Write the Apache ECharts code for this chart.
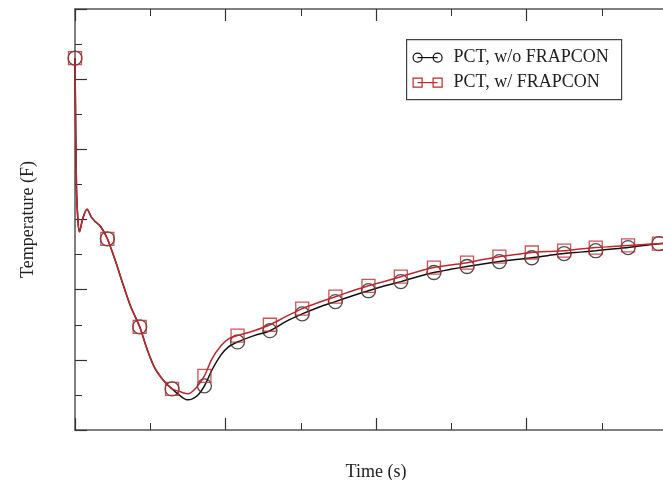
<!DOCTYPE html>
<html>
<head>
<meta charset="utf-8">
<script src="https://cdn.jsdelivr.net/npm/echarts@6/dist/echarts.min.js"></script>
<style>
html,body{margin:0;padding:0;background:#fff;}
#chart{width:663px;height:480px;}
</style>
</head>
<body>
<div id="chart"></div>
<script>
// Time (s)
var time = [0,1,2,3,5,8,11,13,17,21.5,27,32,37,43,48,53,59,64.5,70,75,81,86,91,97,102,108,119,129.5,140,151,162,173,184,195,206,216.5,227.5,238.5,249.5,260.5,271,282,293,303.5,314,325,335.5,346,357,367.5,378,388,400];
// PCT without FRAPCON (F)
var pctWithout = [1060,686,594,565,600,629,606,596,580,545,480,414,352,294,229,177,140,117,97,86,97,126,171,214,237,251,269,283,309,331,350,366,382,397,411,423,437,449,458,466,473,480,486,491,497,503,507,511,516,520,526,531,536];
// PCT with FRAPCON (F)
var pctWith = [1060,686,594,565,600,629,606,596,580,545,480,414,352,294,229,177,140,117,109,103,123,154,203,240,260,269,283,300,323,346,364,380,396,411,424,437,451,463,470,477,486,494,500,506,509,511,516,520,523,526,529,531,535];
// times that carry a marker
var markerTimes = [0,21.5,43,64.5,86,108,129.5,151,173,195,216.5,238.5,260.5,282,303.5,325,346,367.5,388];
var seriesNames = ['PCT, w/o FRAPCON', 'PCT, w/ FRAPCON'];
var xTitle = 'Time (s)';
var yTitle = 'Temperature (F)';

function pairs(vals){ return time.map(function(t,i){ return [t, vals[i]]; }); }
function markers(vals){
  var out = [];
  time.forEach(function(t,i){ if (markerTimes.indexOf(t) >= 0) out.push([t, vals[i]]); });
  return out;
}

var BLACK = '#111111';
var RED = '#c0282d';
var AXIS = '#555555';
var FONT = 'Liberation Serif';

function axisCommon(extra){
  var o = {
    axisLine: {show: true, onZero: false, lineStyle: {color: AXIS, width: 1.5}},
    axisTick: {show: true, inside: true, length: 12, lineStyle: {color: '#333', width: 1.2}},
    minorTick: {show: true, splitNumber: 2, length: 7, lineStyle: {color: '#333', width: 1}},
    axisLabel: {show: false},
    splitLine: {show: false},
    minorSplitLine: {show: false}
  };
  for (var k in extra) o[k] = extra[k];
  return o;
}

var chart = echarts.init(document.getElementById('chart'), null, {renderer: 'canvas'});
chart.setOption({
  animation: false,
  backgroundColor: '#ffffff',
  grid: {left: 75, top: 9, width: 602, height: 421, containLabel: false, outerBoundsMode: 'none'},
  xAxis: [
    axisCommon({type: 'value', min: 0, max: 400, interval: 100, position: 'bottom',
      name: xTitle, nameLocation: 'middle', nameGap: 33,
      nameTextStyle: {fontFamily: FONT, fontSize: 18, color: '#222'}}),
    axisCommon({type: 'value', min: 0, max: 400, interval: 100, position: 'top'})
  ],
  yAxis: [
    axisCommon({type: 'value', min: 0, max: 1200, interval: 200, position: 'left',
      name: yTitle, nameLocation: 'middle', nameGap: 38,
      nameTextStyle: {fontFamily: FONT, fontSize: 18, color: '#222'}}),
    axisCommon({type: 'value', min: 0, max: 1200, interval: 200, position: 'right'})
  ],
  series: [
    {name: seriesNames[0], type: 'line', data: pairs(pctWithout), symbol: 'none', smooth: 0.3,
      lineStyle: {color: BLACK, width: 1.5}, z: 2},
    {name: seriesNames[0], type: 'scatter', data: markers(pctWithout), symbol: 'circle', symbolSize: 14,
      itemStyle: {color: 'rgba(0,0,0,0)', borderColor: '#222', borderWidth: 1.3}, z: 3},
    {name: seriesNames[1], type: 'line', data: pairs(pctWith), symbol: 'none', smooth: 0.3,
      lineStyle: {color: RED, width: 1.5}, z: 4},
    {name: seriesNames[1], type: 'scatter', data: markers(pctWith), symbol: 'rect', symbolSize: 13,
      itemStyle: {color: 'rgba(0,0,0,0)', borderColor: RED, borderWidth: 1.3}, z: 5}
  ],
  graphic: [
    {type: 'group', left: 406, top: 39, children: [
      {type: 'rect', shape: {x: 0, y: 0, width: 215, height: 60},
        style: {fill: '#fff', stroke: '#444', lineWidth: 1.2}},
      {type: 'line', shape: {x1: 11, y1: 18, x2: 31, y2: 18}, style: {stroke: BLACK, lineWidth: 1.2}},
      {type: 'circle', shape: {cx: 11, cy: 18, r: 4.5}, style: {fill: 'none', stroke: BLACK, lineWidth: 1.2}},
      {type: 'circle', shape: {cx: 31, cy: 18, r: 4.5}, style: {fill: 'none', stroke: BLACK, lineWidth: 1.2}},
      {type: 'text', x: 47, y: 18, style: {text: seriesNames[0], fontFamily: FONT, fontSize: 18, fill: '#222', verticalAlign: 'middle'}},
      {type: 'line', shape: {x1: 11, y1: 43, x2: 31, y2: 43}, style: {stroke: RED, lineWidth: 1.2}},
      {type: 'rect', shape: {x: 6.5, y: 38.5, width: 9, height: 9}, style: {fill: 'none', stroke: RED, lineWidth: 1.2}},
      {type: 'rect', shape: {x: 26.5, y: 38.5, width: 9, height: 9}, style: {fill: 'none', stroke: RED, lineWidth: 1.2}},
      {type: 'text', x: 47, y: 43, style: {text: seriesNames[1], fontFamily: FONT, fontSize: 18, fill: '#222', verticalAlign: 'middle'}}
    ]}
  ]
});
</script>
</body>
</html>
